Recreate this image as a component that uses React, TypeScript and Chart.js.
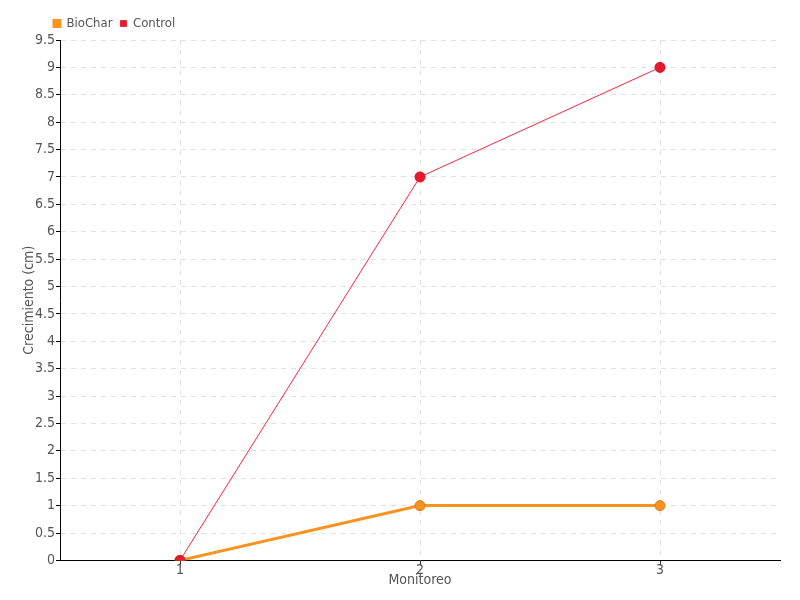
import React, { useEffect, useRef } from "react";
import { Chart, registerables } from "chart.js";

Chart.register(...registerables);

const categories = ["1", "2", "3"];
const bioCharValues = [0, 1, 1];
const controlValues = [0, 7, 9];
const seriesNames = ["BioChar", "Control"];
const xTitle = "Monitoreo";
const yTitle = "Crecimiento (cm)";

const FONT = "'DejaVu Sans Condensed', 'Liberation Sans Narrow', 'DejaVu Sans', sans-serif";

const legendShift = {
  id: "legendShift",
  beforeDraw(chart: any) {
    if (chart.legend) {
      const w = chart.legend.right - chart.legend.left;
      chart.legend.left = 46;
      chart.legend.right = 46 + w;
    }
  },
};

export default function App() {
  const ref = useRef<HTMLCanvasElement | null>(null);
  useEffect(() => {
    document.body.style.margin = "0";
    const ctx = ref.current!.getContext("2d")!;
    const chart = new Chart(ctx, {
      type: "line",
      plugins: [legendShift],
      data: {
        labels: categories,
        datasets: [
          {
            label: seriesNames[0],
            data: bioCharValues,
            borderColor: "#f7931e",
            backgroundColor: "#f7931e",
            borderWidth: 3,
            pointRadius: 5,
            pointBorderWidth: 1,
            pointBackgroundColor: "#f7931e",
            pointBorderColor: "#d9791a",
            order: 2,
          },
          {
            label: seriesNames[1],
            data: controlValues,
            borderColor: "#f0283c",
            backgroundColor: "#e8192c",
            borderWidth: 1,
            pointRadius: 5,
            pointBorderWidth: 1,
            pointBackgroundColor: "#e8192c",
            pointBorderColor: "#d4101f",
            order: 1,
          },
        ],
      },
      options: {
        responsive: false,
        animation: false,
        layout: { padding: { left: 22, right: 20, top: 9, bottom: 11 } },
        plugins: {
          legend: {
            position: "top",
            align: "start",
            labels: {
              boxWidth: 6,
              boxHeight: 6,
              padding: 8,
              color: "#555",
              font: { family: FONT, size: 13 },
              sort: (a: any, b: any) => a.datasetIndex - b.datasetIndex,
            },
          },
          tooltip: { enabled: false },
        },
        scales: {
          x: {
            type: "category",
            offset: true,
            grid: {
              offset: false,
              color: "#e0e0e0",
              tickColor: "#333",
              tickLength: 5,
              drawTicks: true,
            },
            border: { color: "#000", width: 1, dash: [5, 5] },
            ticks: { color: "#555", font: { family: FONT, size: 14 }, padding: -3 },
            title: {
              display: true,
              text: xTitle,
              color: "#555",
              font: { family: FONT, size: 14 },
              padding: { top: -4, bottom: 0 },
            },
          },
          y: {
            min: 0,
            max: 9.5,
            ticks: {
              stepSize: 0.5,
              color: "#555",
              font: { family: FONT, size: 14 },
              padding: 1,
              callback: (v: any) => String(+v),
            },
            grid: {
              color: "#e0e0e0",
              tickColor: "#000",
              tickLength: 4,
            },
            border: { color: "#000", width: 1, dash: [5, 5] },
            title: {
              display: true,
              text: yTitle,
              color: "#555",
              font: { family: FONT, size: 14, lineHeight: 1 },
              padding: { top: 0, bottom: -2 },
            },
          },
        },
      },
    });
    return () => chart.destroy();
  }, []);
  return <canvas ref={ref} width={800} height={600} style={{ display: "block" }} />;
}
